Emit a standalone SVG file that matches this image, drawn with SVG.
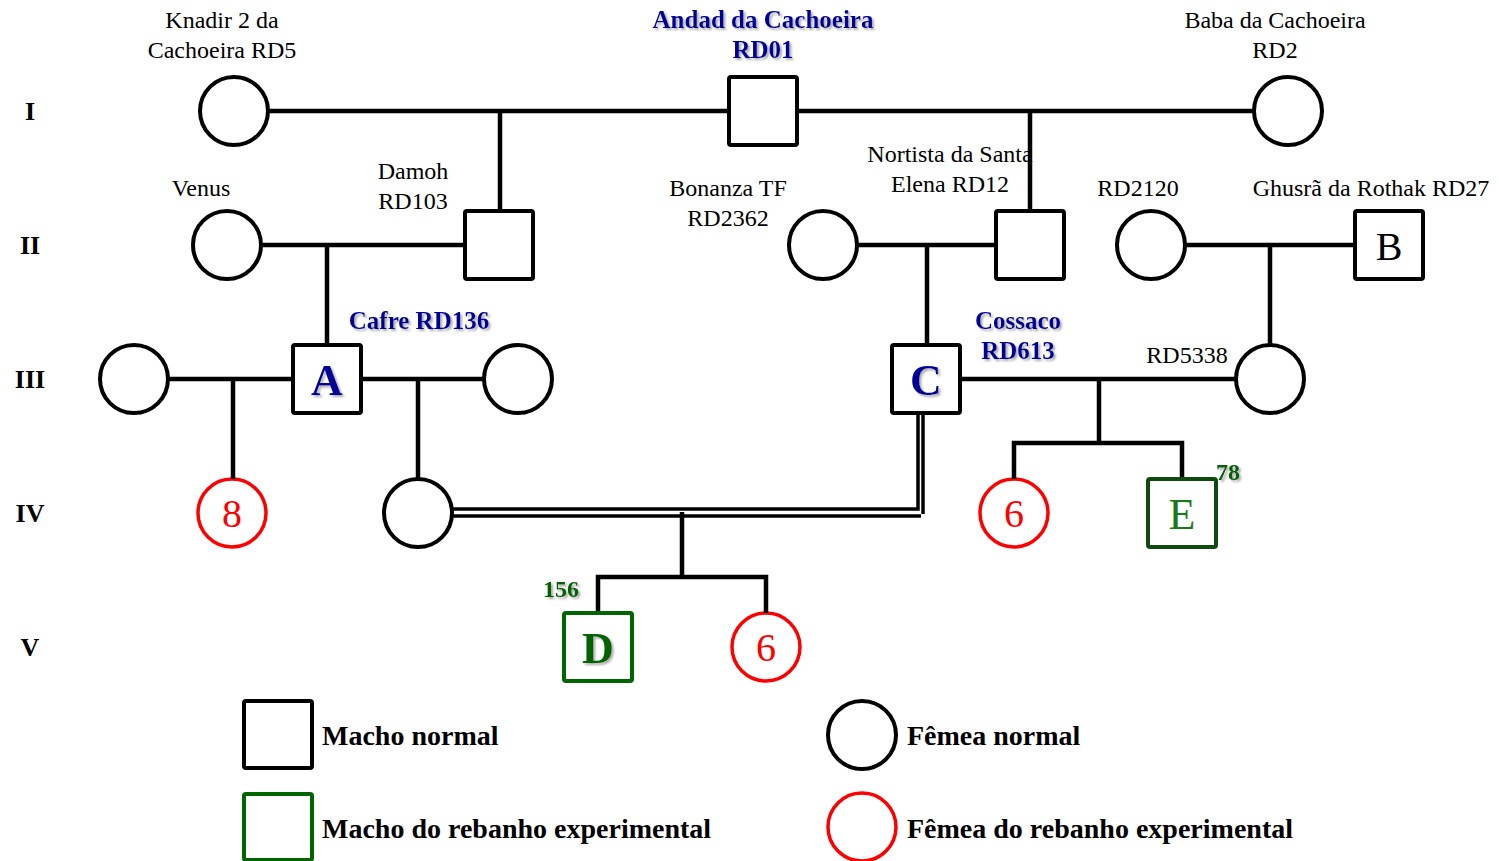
<svg xmlns="http://www.w3.org/2000/svg" width="1499" height="861" viewBox="0 0 1499 861">
  <defs>
    <filter id="shadow" x="-10%" y="-30%" width="130%" height="170%">
      <feDropShadow dx="2" dy="2" stdDeviation="0.8" flood-color="#888888" flood-opacity="0.7"/>
    </filter>
  </defs>
  <style>
    text { font-family: "Liberation Serif", "Times New Roman", serif; }
    .name { font-size: 24px; fill: #000; text-anchor: middle; }
    .key { font-size: 25px; font-weight: bold; fill: #000099; text-anchor: middle; filter: url(#shadow); }
    .gen { font-size: 26px; font-weight: bold; fill: #000; text-anchor: middle; }
    .legend { font-size: 28px; font-weight: bold; fill: #000; }
    .num { font-size: 24px; font-weight: bold; fill: #006400; filter: url(#shadow); }
    .male { fill: #fff; stroke: #000; stroke-width: 4; }
    .female { fill: #fff; stroke: #000; stroke-width: 4; }
    .exp-male { fill: #fff; stroke: #006400; stroke-width: 4; }
    .exp-female { fill: #fff; stroke: #ff0000; stroke-width: 3.5; }
    .line { stroke: #000; stroke-width: 4.5; fill: none; }
    .big { font-size: 44px; text-anchor: middle; }
    .blue-letter { fill: #000099; font-weight: bold; filter: url(#shadow); }
    .red-digit { font-size: 40px; fill: #ff0000; text-anchor: middle; }
  </style>
  <rect width="1499" height="861" fill="#fff"/>

  <!-- generation numbers -->
  <g id="generations">
    <text class="gen" x="30" y="120">I</text>
    <text class="gen" x="30" y="254">II</text>
    <text class="gen" x="30" y="388">III</text>
    <text class="gen" x="30" y="522">IV</text>
    <text class="gen" x="30" y="656">V</text>
  </g>

  <!-- generation I -->
  <g id="knadir">
    <circle class="female" cx="234" cy="111" r="34"/>
    <text class="name" x="222" y="28">Knadir 2 da</text>
    <text class="name" x="222" y="58">Cachoeira RD5</text>
  </g>
  <g id="andad">
    <rect class="male" x="729" y="77" width="68" height="68" rx="2"/>
    <text class="key" x="763" y="28">Andad da Cachoeira</text>
    <text class="key" x="763" y="58">RD01</text>
  </g>
  <g id="baba">
    <circle class="female" cx="1288" cy="111" r="34"/>
    <text class="name" x="1275" y="28">Baba da Cachoeira</text>
    <text class="name" x="1275" y="58">RD2</text>
  </g>

  <!-- generation II -->
  <g id="venus">
    <circle class="female" cx="227" cy="245" r="34"/>
    <text class="name" x="201" y="196">Venus</text>
  </g>
  <g id="damoh">
    <rect class="male" x="465" y="211" width="68" height="68" rx="2"/>
    <text class="name" x="413" y="179">Damoh</text>
    <text class="name" x="413" y="209">RD103</text>
  </g>
  <g id="bonanza">
    <circle class="female" cx="823" cy="245" r="34"/>
    <text class="name" x="728" y="196">Bonanza TF</text>
    <text class="name" x="728" y="226">RD2362</text>
  </g>
  <g id="nortista">
    <rect class="male" x="996" y="211" width="68" height="68" rx="2"/>
    <text class="name" x="950" y="162">Nortista da Santa</text>
    <text class="name" x="950" y="192">Elena RD12</text>
  </g>
  <g id="rd2120">
    <circle class="female" cx="1151" cy="245" r="34"/>
    <text class="name" x="1138" y="196">RD2120</text>
  </g>
  <g id="ghusra">
    <rect class="male" x="1355" y="211" width="68" height="68" rx="2"/>
    <text class="big" x="1389" y="260" style="font-size:40px">B</text>
    <text class="name" x="1371" y="196">Ghusrã da Rothak RD27</text>
  </g>

  <!-- generation III -->
  <g id="dam-left">
    <circle class="female" cx="134" cy="379" r="34"/>
  </g>
  <g id="cafre">
    <rect class="male" x="293" y="345" width="68" height="68" rx="2"/>
    <text class="big blue-letter" x="327" y="395">A</text>
    <text class="key" x="419" y="329">Cafre RD136</text>
  </g>
  <g id="dam-right">
    <circle class="female" cx="518" cy="379" r="34"/>
  </g>
  <g id="cossaco">
    <rect class="male" x="892" y="345" width="68" height="68" rx="2"/>
    <text class="big blue-letter" x="926" y="395">C</text>
    <text class="key" x="1018" y="329">Cossaco</text>
    <text class="key" x="1018" y="359">RD613</text>
  </g>
  <g id="rd5338">
    <circle class="female" cx="1270" cy="379" r="34"/>
    <text class="name" x="1187" y="363">RD5338</text>
  </g>

  <!-- generation IV -->
  <g id="females-8">
    <circle class="exp-female" cx="232" cy="513" r="34"/>
    <text class="red-digit" x="232" y="527">8</text>
  </g>
  <g id="dam-iv">
    <circle class="female" cx="418" cy="513" r="34"/>
  </g>
  <g id="females-6-iv">
    <circle class="exp-female" cx="1014" cy="513" r="34"/>
    <text class="red-digit" x="1014" y="527">6</text>
  </g>
  <g id="males-e">
    <rect x="1148" y="479" width="68" height="68" rx="2" fill="#fff" stroke="#0f4a0f" stroke-width="4"/>
    <text class="big" x="1182" y="529" fill="#1a7a1a">E</text>
    <text class="num" x="1216" y="480">78</text>
  </g>

  <!-- generation V -->
  <g id="males-d">
    <rect class="exp-male" x="564" y="613" width="68" height="68" rx="2"/>
    <text class="big" x="598" y="663" fill="#006400" font-weight="bold" filter="url(#shadow)">D</text>
    <text class="num" x="561" y="597" text-anchor="middle">156</text>
  </g>
  <g id="females-6-v">
    <circle class="exp-female" cx="766" cy="647" r="34"/>
    <text class="red-digit" x="766" y="661">6</text>
  </g>

  <!-- legend -->
  <g id="legend">
    <rect class="male" x="244" y="701" width="68" height="67" rx="2"/>
    <text class="legend" x="322" y="745">Macho normal</text>
    <rect class="exp-male" x="244" y="794" width="68" height="66" rx="2"/>
    <text class="legend" x="322" y="838">Macho do rebanho experimental</text>
    <circle class="female" cx="862" cy="735" r="34"/>
    <text class="legend" x="907" y="745">Fêmea normal</text>
    <circle class="exp-female" cx="862" cy="827" r="34"/>
    <text class="legend" x="907" y="838">Fêmea do rebanho experimental</text>
  </g>

  <!-- mating and descent lines -->
  <g id="connectors">
    <!-- generation I -->
    <line class="line" x1="268" y1="111" x2="729" y2="111"/>
    <line class="line" x1="797" y1="111" x2="1254" y2="111"/>
    <line class="line" x1="500" y1="111" x2="500" y2="211"/>
    <line class="line" x1="1030" y1="111" x2="1030" y2="211"/>
    <!-- generation II -->
    <line class="line" x1="261" y1="245" x2="465" y2="245"/>
    <line class="line" x1="327" y1="245" x2="327" y2="345"/>
    <line class="line" x1="857" y1="245" x2="996" y2="245"/>
    <line class="line" x1="927" y1="245" x2="927" y2="345"/>
    <line class="line" x1="1185" y1="245" x2="1355" y2="245"/>
    <line class="line" x1="1270" y1="245" x2="1270" y2="345"/>
    <!-- generation III -->
    <line class="line" x1="168" y1="379" x2="293" y2="379"/>
    <line class="line" x1="233" y1="379" x2="233" y2="479"/>
    <line class="line" x1="361" y1="379" x2="484" y2="379"/>
    <line class="line" x1="418" y1="379" x2="418" y2="479"/>
    <line class="line" x1="960" y1="379" x2="1236" y2="379"/>
    <line class="line" x1="1099" y1="379" x2="1099" y2="443"/>
    <path class="line" d="M1014,479 V443 H1182 V477"/>
    <!-- consanguineous mating (double line) -->
    <g stroke="#000" stroke-width="3.5" fill="none">
      <path d="M452,509 H918 V413"/>
      <path d="M452,516 H921"/>
      <path d="M923,413 V514"/>
    </g>
    <!-- generation IV offspring -->
    <line class="line" x1="682" y1="512" x2="682" y2="577"/>
    <path class="line" d="M598,611 V577 H766 V613"/>
  </g>
</svg>
